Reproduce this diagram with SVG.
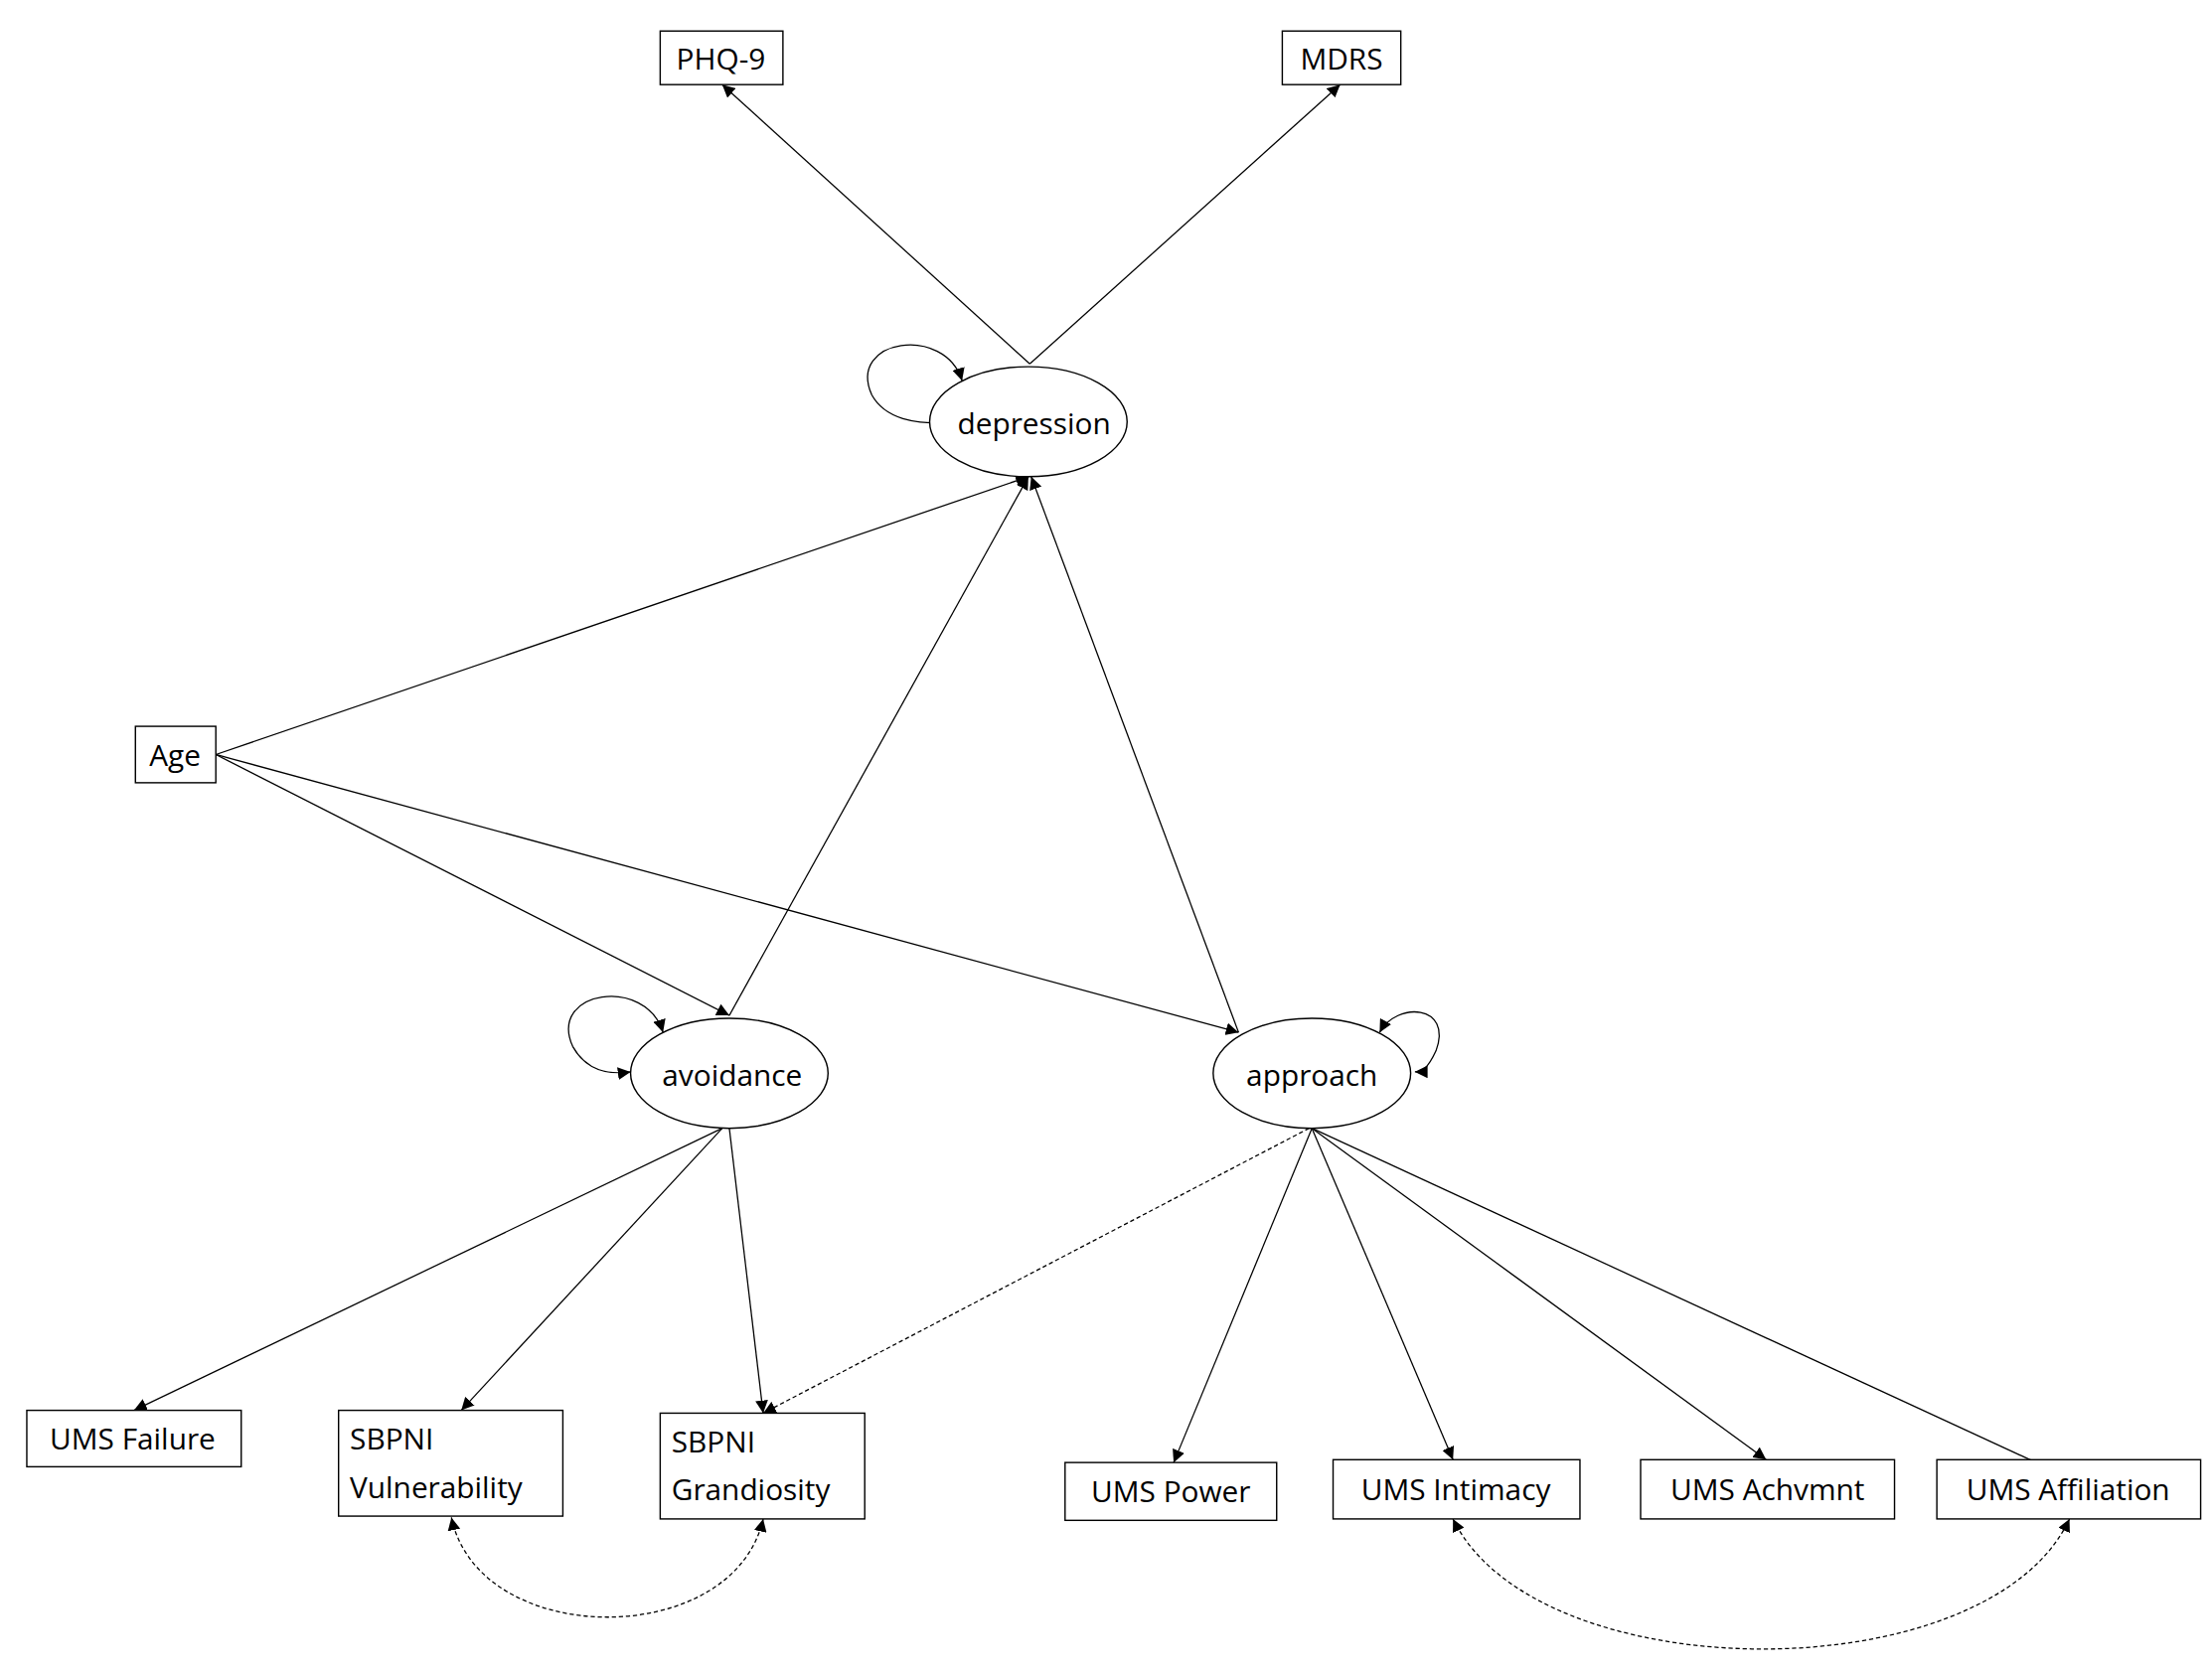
<svg xmlns="http://www.w3.org/2000/svg" width="2226" height="1686" viewBox="0 0 2226 1686">
<style>
.n{fill:#fff;stroke:#000;stroke-width:1}
.t{font-family:"Open Sans","Liberation Sans",sans-serif;font-size:21px;fill:#000;text-anchor:middle}
.e{fill:none;stroke:#000;stroke-width:0.9;marker-end:url(#a)}
.d{stroke-dasharray:3,2}
.b{marker-start:url(#s)}
</style>
<defs>
<marker id="a" viewBox="0 0 10 10" refX="10" refY="5" markerWidth="9" markerHeight="9" markerUnits="userSpaceOnUse" orient="auto"><path d="M0,0L10,5L0,10z"/></marker>
<marker id="s" viewBox="0 0 10 10" refX="0" refY="5" markerWidth="9" markerHeight="9" markerUnits="userSpaceOnUse" orient="auto"><path d="M10,0L0,5L10,10z"/></marker>
</defs>
<rect width="2226" height="1686" fill="#fff"/>
<g transform="scale(1.4196)">
<g id="connectors">
<path class="e" d="M730,258L512,60"/>
<path class="e" d="M730,258L950,60"/>
<path class="e" d="M153,535L729,338"/>
<path class="e" d="M517,720L729,338"/>
<path class="e" d="M878,732L731,338"/>
<path class="e" d="M153,535L517,720"/>
<path class="e" d="M153,535L878,732"/>
<path class="e" d="M512,800L95,1000"/>
<path class="e" d="M512,800L327,1000"/>
<path class="e" d="M517,800L541,1002"/>
<path class="e d" d="M928,800L541,1002"/>
<path class="e" d="M930,800L832,1037"/>
<path class="e" d="M930,800L1030,1035"/>
<path class="e" d="M930,800L1252,1035"/>
<path class="e" d="M930,800L1465,1047"/>
<path class="e d b" d="M320,1076C340,1170 520,1170 541,1077"/>
<path class="e d b" d="M1030,1077C1090,1200 1410,1200 1467,1077"/>
<path class="e b" d="M682,270C670,230 600,240 618,280C628,298 650,300 668,300"/>
<path class="e b" d="M470,732C458,692 388,702 406,742C416,760 432,762 447,760"/>
<path class="e b" d="M978,732C990,710 1030,712 1018,745C1012,758 1008,760 1003,760"/>
</g>
<g id="phq9"><rect class="n" x="468" y="22" width="87" height="38"/><text class="t" x="511" y="49">PHQ-9</text></g>
<g id="mdrs"><rect class="n" x="909" y="22" width="84" height="38"/><text class="t" x="951" y="49">MDRS</text></g>
<g id="depression"><ellipse class="n" cx="729" cy="299" rx="70" ry="39"/><text class="t" x="733" y="308">depression</text></g>
<g id="age"><rect class="n" x="96" y="515" width="57" height="40"/><text class="t" x="124" y="543">Age</text></g>
<g id="avoidance"><ellipse class="n" cx="517" cy="761" rx="70" ry="39"/><text class="t" x="519" y="770">avoidance</text></g>
<g id="approach"><ellipse class="n" cx="930" cy="761" rx="70" ry="39"/><text class="t" x="930" y="770">approach</text></g>
<g id="umsfailure"><rect class="n" x="19" y="1000" width="152" height="40"/><text class="t" x="94" y="1028">UMS Failure</text></g>
<g id="vuln"><rect class="n" x="240" y="1000" width="159" height="75"/><text class="t" x="248" y="1028" style="text-anchor:start">SBPNI</text><text class="t" x="248" y="1062" style="text-anchor:start">Vulnerability</text></g>
<g id="grand"><rect class="n" x="468" y="1002" width="145" height="75"/><text class="t" x="476" y="1030" style="text-anchor:start">SBPNI</text><text class="t" x="476" y="1064" style="text-anchor:start">Grandiosity</text></g>
<g id="power"><rect class="n" x="755" y="1037" width="150" height="41"/><text class="t" x="830" y="1065">UMS Power</text></g>
<g id="intimacy"><rect class="n" x="945" y="1035" width="175" height="42"/><text class="t" x="1032" y="1064">UMS Intimacy</text></g>
<g id="achvmnt"><rect class="n" x="1163" y="1035" width="180" height="42"/><text class="t" x="1253" y="1064">UMS Achvmnt</text></g>
<g id="affiliation"><rect class="n" x="1373" y="1035" width="187" height="42"/><text class="t" x="1466" y="1064">UMS Affiliation</text></g>
</g>
</svg>
